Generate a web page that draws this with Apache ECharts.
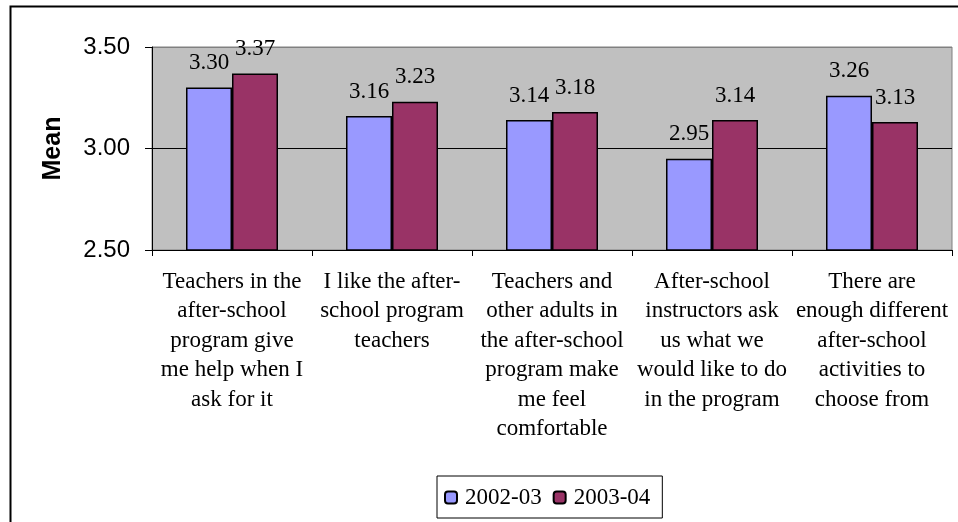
<!DOCTYPE html>
<html lang="en">

<head>
    <meta charset="UTF-8">
    <title>Mean ratings</title>
    <style>
        * {
            margin: 0;
            padding: 0;
        }

        html,
        body {
            width: 958px;
            height: 522px;
            background: #fff;
        }

        .box {
            width: 958px;
            height: 522px;
        }
    </style>
</head>

<body>
    <div class="box"></div>
</body>
<script src="https://cdn.jsdelivr.net/npm/echarts@6/dist/echarts.min.js"></script>
<script>
    // categories (line breaks as in the picture)
    const categories = [
        'Teachers in the\nafter-school\nprogram give\nme help when I\nask for it',
        'I like the after-\nschool program\nteachers',
        'Teachers and\nother adults in\nthe after-school\nprogram make\nme feel\ncomfortable',
        'After-school\ninstructors ask\nus what we\nwould like to do\nin the program',
        'There are\nenough different\nafter-school\nactivities to\nchoose from'
    ]
    const seriesNames = ['2002-03', '2003-04']
    const values0203 = [3.30, 3.16, 3.14, 2.95, 3.26]
    const values0304 = [3.37, 3.23, 3.18, 3.14, 3.13]
    const yTicks = [2.5, 3.0, 3.5]

    const serif = '"Liberation Serif", "Times New Roman", serif'
    const sans = '"Liberation Sans", Arial, sans-serif'

    let chart = echarts.init(document.querySelector('.box'))

    let barLabel = {
        show: true,
        position: 'top',
        distance: 13,
        color: '#000',
        fontFamily: serif,
        fontSize: 23,
        formatter: p => p.value.toFixed(2)
    }

    const option = {
        animation: false,
        backgroundColor: '#fff',
        graphic: [{
            // outer frame, only left and top edges are in view
            type: 'rect',
            shape: { x: 10.5, y: 6.5, width: 1000, height: 600 },
            style: { fill: 'none', stroke: '#000', lineWidth: 2 },
            z: 100
        }],
        grid: {
            left: 152,
            right: 6,
            top: 47,
            bottom: 272,
            show: true,
            backgroundColor: '#c0c0c0',
            borderColor: '#808080',
            borderWidth: 1
        },
        legend: {
            data: seriesNames,
            left: 437,
            top: 476,
            padding: [10, 12, 9, 7],
            itemGap: 11,
            itemWidth: 12,
            itemHeight: 12,
            borderColor: '#000',
            borderWidth: 1,
            textStyle: {
                fontFamily: serif,
                fontSize: 23,
                color: '#000',
                padding: [0, 0, 0, 3]
            }
        },
        xAxis: {
            type: 'category',
            data: categories,
            axisLine: { lineStyle: { color: '#000', width: 1 } },
            axisTick: { show: true, length: 6, inside: false, lineStyle: { color: '#000' } },
            axisLabel: {
                interval: 0,
                margin: 17,
                color: '#000',
                fontFamily: serif,
                fontSize: 23,
                lineHeight: 29.5,
                align: 'center'
            }
        },
        yAxis: {
            type: 'value',
            min: yTicks[0],
            max: yTicks[yTicks.length - 1],
            interval: 0.5,
            name: 'Mean',
            nameLocation: 'middle',
            nameRotate: 90,
            nameGap: 86,
            nameTextStyle: {
                fontFamily: sans,
                fontWeight: 'bold',
                fontSize: 25,
                color: '#000'
            },
            axisLine: { show: true, lineStyle: { color: '#000' } },
            axisTick: { show: true, length: 7, lineStyle: { color: '#000' } },
            axisLabel: {
                margin: 22,
                color: '#000',
                fontFamily: sans,
                fontSize: 24,
                formatter: v => v.toFixed(2)
            },
            splitLine: {
                show: true,
                lineStyle: { color: ['#000', '#000', '#808080'], width: 1 }
            }
        },
        series: [{
            name: seriesNames[0],
            type: 'bar',
            data: values0203,
            barWidth: 46,
            barGap: '0%',
            itemStyle: { color: '#9999ff', borderColor: '#000', borderWidth: 1.5 },
            label: barLabel
        }, {
            name: seriesNames[1],
            type: 'bar',
            data: values0304,
            barWidth: 46,
            itemStyle: { color: '#993366', borderColor: '#000', borderWidth: 1.5 },
            label: barLabel
        }]
    }
    chart.setOption(option)
</script>

</html>
